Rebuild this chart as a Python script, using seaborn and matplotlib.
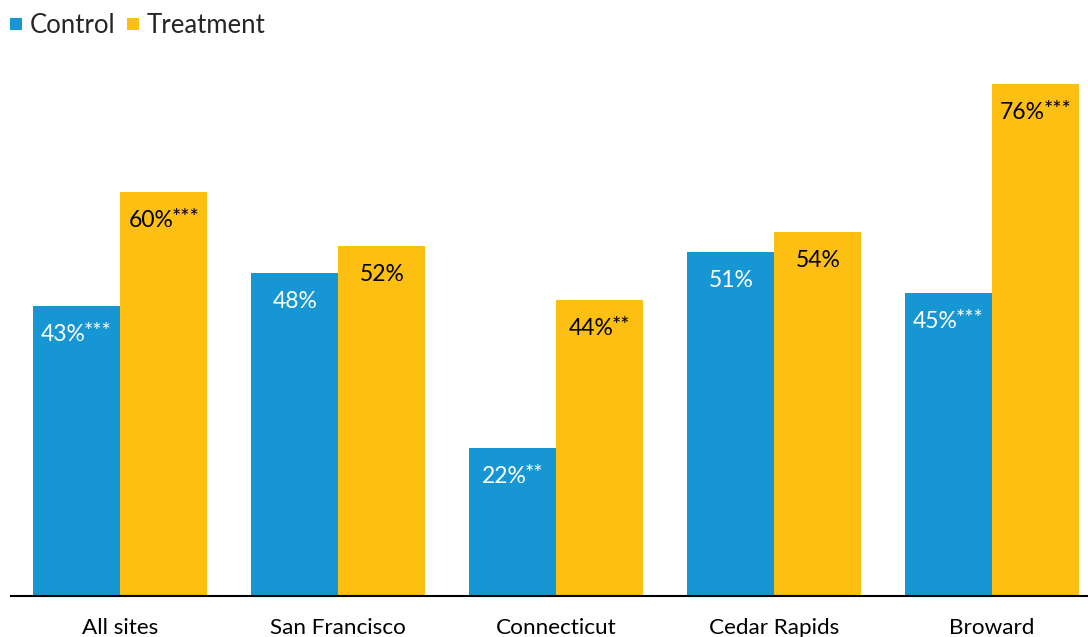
import matplotlib
matplotlib.use("Agg")
import matplotlib.pyplot as plt
from matplotlib.lines import Line2D
import seaborn as sns
import pandas as pd

# Share of participants, by site and study group
sites = ["All sites", "San Francisco", "Connecticut", "Cedar Rapids", "Broward"]
groups = ["Control", "Treatment"]
control = [43, 48, 22, 51, 45]
treatment = [60, 52, 44, 54, 76]
# significance markers printed after each value
control_sig = ["***", "", "**", "", "***"]
treatment_sig = ["***", "", "**", "", "***"]

colors = ["#1696d2", "#fdbf11"]
text_colors = ["white", "black"]

sns.set_theme(style="white")
plt.rcParams["font.family"] = ["Lato", "DejaVu Sans"]

df = pd.DataFrame({
    "site": sites * 2,
    "group": [groups[0]] * len(sites) + [groups[1]] * len(sites),
    "value": control + treatment,
})

W, H = 1088, 637
fig = plt.figure(figsize=(W / 100, H / 100), dpi=100)
ax = fig.add_axes([11 / W, (H - 596) / H, 1090 / W, (596 - 57) / H])

sns.barplot(data=df, x="site", y="value", hue="group", order=sites,
            hue_order=groups, palette=colors, saturation=1, width=0.8,
            gap=0, errorbar=None, legend=False, linewidth=0, ax=ax)

ax.set_xlim(-0.5, 4.5)
ax.set_ylim(0, 80)
ax.set_yticks([])
ax.set_xlabel("")
ax.set_ylabel("")
ax.tick_params(axis="x", length=0, pad=16, labelsize=16.2, labelcolor="black")
for s in ["left", "right", "top"]:
    ax.spines[s].set_visible(False)
ax.spines["bottom"].set_color("black")
ax.spines["bottom"].set_linewidth(1.5)

# Value labels inside the top of each bar, with significance stars
fig.canvas.draw()
renderer = fig.canvas.get_renderer()
px2pt = 72 / fig.dpi
base_dy = -35 * px2pt
for container, sigs, tc in zip(ax.containers, [control_sig, treatment_sig], text_colors):
    for bar, sig in zip(container, sigs):
        h = bar.get_height()
        xc = bar.get_x() + bar.get_width() / 2
        main = ax.annotate(f"{h:.0f}%", xy=(xc, h), xytext=(0, base_dy),
                           textcoords="offset points", ha="left", va="baseline",
                           fontsize=16.5, color=tc)
        w1 = main.get_window_extent(renderer).width - 2
        w2 = 0
        star = None
        if sig:
            star = ax.annotate(sig, xy=(xc, h), xytext=(0, base_dy),
                               textcoords="offset points", ha="left", va="baseline",
                               fontsize=15.5, color=tc)
            w2 = star.get_window_extent(renderer).width
        left = -(w1 + w2) / 2
        main.xyann = (left * px2pt, base_dy)
        if star is not None:
            star.xyann = ((left + w1) * px2pt, base_dy + 3 * px2pt)

handles = [Line2D([], [], marker="s", linestyle="none", markersize=8.5,
                  markerfacecolor=c, markeredgewidth=0) for c in colors]
fig.legend(handles, groups, loc="upper left", bbox_to_anchor=(7.5 / W, 1 - 13 / H),
           ncol=2, frameon=False, fontsize=18.5, handlelength=0.7,
           handletextpad=0.18, columnspacing=0.33, borderaxespad=0, borderpad=0)

fig.savefig("out.png", dpi=100)
